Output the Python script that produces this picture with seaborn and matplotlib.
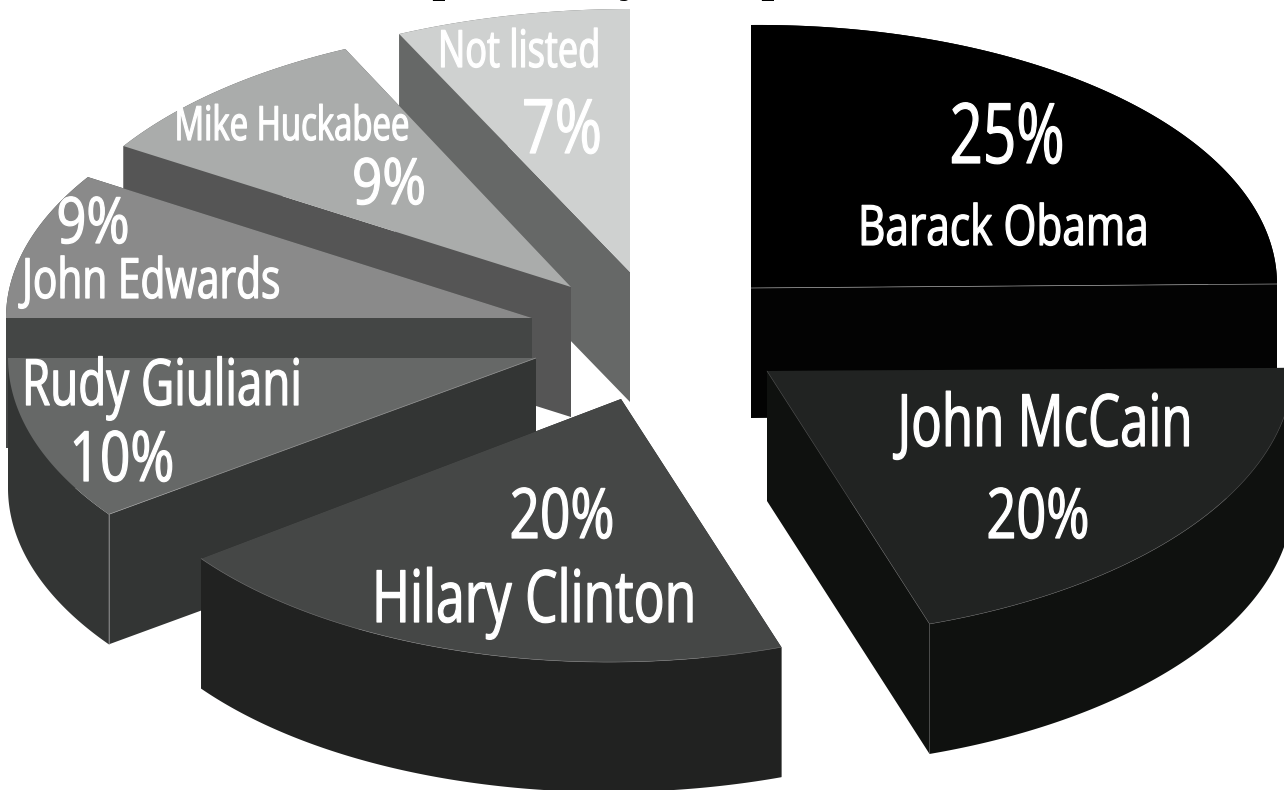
import numpy as np
import matplotlib
matplotlib.use("Agg")
import matplotlib.pyplot as plt
import matplotlib.patheffects as pe
from matplotlib.transforms import Affine2D
import seaborn as sns

# Candidate shares, clockwise from twelve o'clock
candidates = ["Barack Obama", "John McCain", "Hilary Clinton", "Rudy Giuliani",
              "John Edwards", "Mike Huckabee", "Not listed"]
shares = [25, 20, 20, 10, 9, 9, 7]

top_colors = ["#000000", "#212322", "#454746", "#666867", "#8a8a8a", "#aaacab", "#cfd1d0"]
wall_colors = ["#030303", "#0f110f", "#212221", "#333534", "#444645", "#555555", "#666867"]

# Exploded apex, radii and slight shear of each slice, in canvas pixels
apex_x = [751, 767, 621, 536, 532, 571, 630]
apex_y = [288, 371, 399, 358, 318, 287, 272]
radius_x = [526, 526, 519, 528, 526, 530, 542]
radius_y = [263, 267, 263, 266, 263, 263, 263]
tilt = [-0.0076, -0.006, -0.012, 0, 0, 0, 0]
DEPTH = 130

# Back-to-front painting order
paint_order = [6, 5, 4, 3, 2, 0, 1]

sns.set_theme(style="white")
plt.rcParams["font.family"] = ["Open Sans", "DejaVu Sans"]

fig = plt.figure(figsize=(12.84, 7.90), dpi=100)
ax = fig.add_axes([0, 0, 1, 1])
ax.set_xlim(0, 1284)
ax.set_ylim(790, 0)
ax.axis("off")

cum = np.cumsum([0] + shares) / sum(shares) * 2 * np.pi
HAIR = dict(color="#9a9a9a", lw=0.5, solid_capstyle="butt")


def sector(i):
    t = np.linspace(cum[i], cum[i + 1], 160)
    x = apex_x[i] + radius_x[i] * np.sin(t)
    y = apex_y[i] - radius_y[i] * np.cos(t) + tilt[i] * radius_x[i] * np.sin(t)
    return x, y


for i in paint_order:
    x, y = sector(i)
    px, py = apex_x[i], apex_y[i]

    # Two cut faces, then the curved rim, then the top face
    for ex, ey in [(x[0], y[0]), (x[-1], y[-1])]:
        ax.fill([px, ex, ex, px], [py, ey, ey + DEPTH, py + DEPTH], color=wall_colors[i], lw=0)
    ax.fill(np.r_[x, x[::-1]], np.r_[y, y[::-1] + DEPTH], color=wall_colors[i], lw=0)
    ax.fill(np.r_[px, x], np.r_[py, y], color=top_colors[i], lw=0)

# Hairlines picking out the top faces of the darker slices
x, y = sector(0)
ax.plot([apex_x[0], x[-1]], [apex_y[0], y[-1]], **HAIR)
x, y = sector(3)
ax.plot([apex_x[3], x[0]], [apex_y[3], y[0]], **HAIR)
ax.plot([x[0], x[0]], [y[0], y[0] + DEPTH], **HAIR)
x, y = sector(2)
ax.plot(x, y, color="#777777", lw=0.4)
x, y = sector(1)
ax.plot(np.r_[apex_x[1], x[-1]], np.r_[apex_y[1], y[-1]], color="#555555", lw=0.4)
ax.plot(x, y, color="#555555", lw=0.4)


class Condense(pe.AbstractPathEffect):
    """Narrows a text's glyphs about its anchor point, thickening the stems a little."""

    def __init__(self, factor, anchor_px):
        super().__init__()
        self.factor = factor
        self.anchor_px = anchor_px

    def draw_path(self, renderer, gc, tpath, affine, rgbFace=None):
        squeeze = (Affine2D().translate(-self.anchor_px, 0)
                   .scale(self.factor, 1).translate(self.anchor_px, 0))
        stroked = renderer.new_gc()
        stroked.copy_properties(gc)
        stroked.set_linewidth(0.9)
        stroked.set_foreground("white")
        renderer.draw_path(stroked, tpath, affine + squeeze, rgbFace)
        stroked.restore()


# Slice labels: text, anchor x, alignment, baseline y, font size, ink width
labels = [
    (f"{shares[0]}%", 1007, "center", 163, 60, 115),
    (candidates[0], 1003, "center", 245, 40, 290),
    (candidates[1], 1045, "center", 446, 52, 295),
    (f"{shares[1]}%", 1038, "center", 538, 50, 103),
    (f"{shares[2]}%", 562, "center", 538, 50, 105),
    (candidates[2], 534, "center", 622, 52, 324),
    (candidates[3], 22, "left", 405, 46, 280),
    (f"{shares[3]}%", 122, "center", 481, 50, 105),
    (f"{shares[4]}%", 93, "center", 243, 46, 73),
    (candidates[4], 22, "left", 298, 40, 258),
    (candidates[5], 292, "center", 140, 34, 235),
    (f"{shares[5]}%", 389, "center", 204, 46, 74),
    (candidates[6], 519, "center", 67, 37, 162),
    (f"{shares[6]}%", 562, "center", 153, 54, 80),
]
renderer = fig.canvas.get_renderer()
for text, ax_x, align, base, size, ink in labels:
    label = ax.text(ax_x, base, text, color="white", ha=align, va="baseline", fontsize=size)
    natural = label.get_window_extent(renderer).width
    label.set_path_effects([Condense(ink / natural, ax_x)])

# Serif headline runs off the top edge; only the feet of its descenders remain
for glyph, gx in [("p", 445), ("y", 632), ("p", 774)]:
    ax.text(gx, -11, glyph, color="black", ha="center", va="baseline", fontsize=40,
            family="Liberation Serif")

fig.savefig("out.png", dpi=100)
